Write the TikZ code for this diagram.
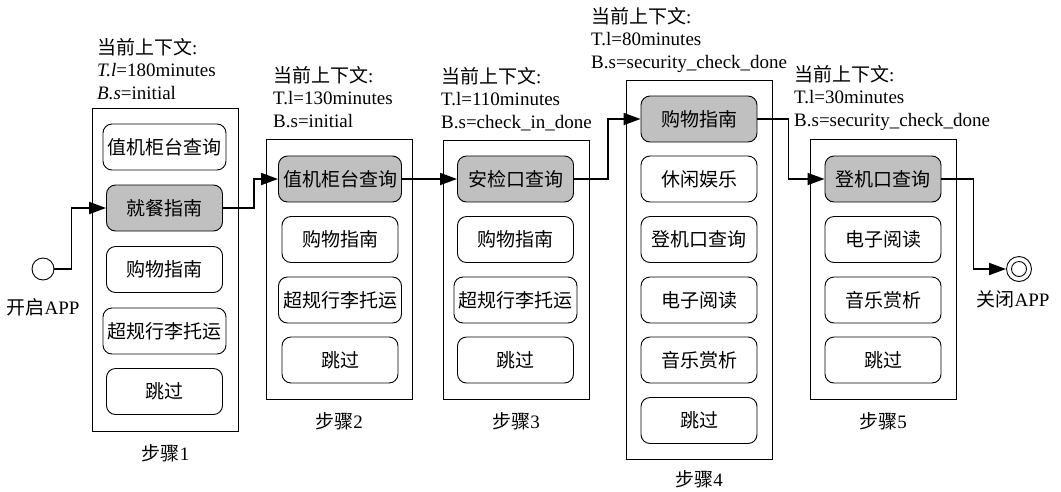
\documentclass[tikz,border=0pt]{standalone}
\usepackage{fontspec}
\setmainfont{Liberation Serif}
\newfontfamily\cjk{Noto Sans CJK SC}
\usetikzlibrary{arrows.meta,positioning}
\newcommand{\zh}[1]{{\cjk #1}}
\definecolor{selgray}{RGB}{192,192,192}

\begin{document}
\begin{tikzpicture}[x=1pt, y=-1pt,
	every node/.style={font=\fontsize{19}{22.5}\selectfont, inner sep=0pt},
	stage/.style={draw, line width=0.9pt, minimum width=146pt},
	opt/.style={draw, line width=0.9pt, rounded corners=9pt, minimum width=116pt, minimum height=46pt, font=\fontsize{19}{22.5}\selectfont\cjk},
	wideopt/.style={opt, minimum width=123pt},
	picked/.style={fill=selgray},
	ctx/.style={anchor=north west, align=left},
	flow/.style={line width=1.8pt, -{Triangle[length=17pt,width=12pt]}}]
	\useasboundingbox (0,0) rectangle (1061,491);

	\node[stage, minimum height=323pt] (st1) at (165.5,269.5) {};
	\node[wideopt] (s1a) at (164.5,147) {值机柜台查询};
	\node[opt, picked] (s1b) at (164.5,208) {就餐指南};
	\node[opt] (s1c) at (164.5,269.5) {购物指南};
	\node[wideopt] (s1d) at (164.5,331) {超规行李托运};
	\node[opt] (s1e) at (164.5,391.5) {跳过};

	\node[stage, minimum height=260pt] (st2) at (339,269) {};
	\node[wideopt, picked] (s2a) at (340,179) {值机柜台查询};
	\node[opt] (s2b) at (340,239.5) {购物指南};
	\node[wideopt] (s2c) at (340,300) {超规行李托运};
	\node[opt] (s2d) at (340,360) {跳过};

	\node[stage, minimum height=259pt] (st3) at (516,269.5) {};
	\node[opt, picked] (s3a) at (515.5,179) {安检口查询};
	\node[opt] (s3b) at (515.5,239.5) {购物指南};
	\node[wideopt] (s3c) at (515.5,300) {超规行李托运};
	\node[opt] (s3d) at (515.5,360) {跳过};

	\node[stage, minimum height=379pt] (st4) at (699,269.5) {};
	\node[opt, picked] (s4a) at (699,119) {购物指南};
	\node[opt] (s4b) at (699,179) {休闲娱乐};
	\node[opt] (s4c) at (699,239.5) {登机口查询};
	\node[opt] (s4d) at (699,300) {电子阅读};
	\node[opt] (s4e) at (699,360) {音乐赏析};
	\node[opt] (s4f) at (699,420.5) {跳过};

	\node[stage, minimum height=260pt] (st5) at (883,269) {};
	\node[opt, picked] (s5a) at (883,179) {登机口查询};
	\node[opt] (s5b) at (883,239.5) {电子阅读};
	\node[opt] (s5c) at (883,300) {音乐赏析};
	\node[opt] (s5d) at (883,360) {跳过};

	\node[below=13pt of st1] (lab1) {\zh{步骤}1};
	\node[below=13pt of st2] (lab2) {\zh{步骤}2};
	\node[below=13pt of st3] (lab3) {\zh{步骤}3};
	\node[below=11pt of st4] (lab4) {\zh{步骤}4};
	\node[below=13pt of st5] (lab5) {\zh{步骤}5};

	\node[ctx] (ctx1) at (97,38) {\zh{当前上下文}:\\\textit{T.l}=180minutes\\\textit{B.s}=initial};
	\node[ctx] (ctx2) at (273,66) {\zh{当前上下文}:\\T.l=130minutes\\B.s=initial};
	\node[ctx] (ctx3) at (441,67) {\zh{当前上下文}:\\T.l=110minutes\\B.s=check\_in\_done};
	\node[ctx] (ctx4) at (591,7) {\zh{当前上下文}:\\T.l=80minutes\\B.s=security\_check\_done};
	\node[ctx] (ctx5) at (794,65) {\zh{当前上下文}:\\T.l=30minutes\\B.s=security\_check\_done};

	\node[circle, draw, line width=0.9pt, minimum size=22pt] (start) at (43,269) {};
	\node[below=18pt of start] (startlab) {\zh{开启}APP};
	\node[circle, draw, line width=0.9pt, minimum size=25pt] (stop) at (1019,269) {};
	\node[circle, draw, line width=0.9pt, minimum size=15pt] (stopin) at (stop) {};
	\node[below=8pt of stop, xshift=-6pt] (stoplab) {\zh{关闭}APP};

	\draw[flow] (start.east) -- ++(17,0) |- (s1b.west);
	\draw[flow] (s1b.east) -- ++(31,0) |- (s2a.west);
	\draw[flow] (s2a) -- (s3a);
	\draw[flow] (s3a.east) -- ++(34,0) |- (s4a.west);
	\draw[flow] (s4a.east) -- ++(31,0) |- (s5a.west);
	\draw[flow] (s5a.east) -- ++(32,0) |- (stop.west);

\end{tikzpicture}
\end{document}
